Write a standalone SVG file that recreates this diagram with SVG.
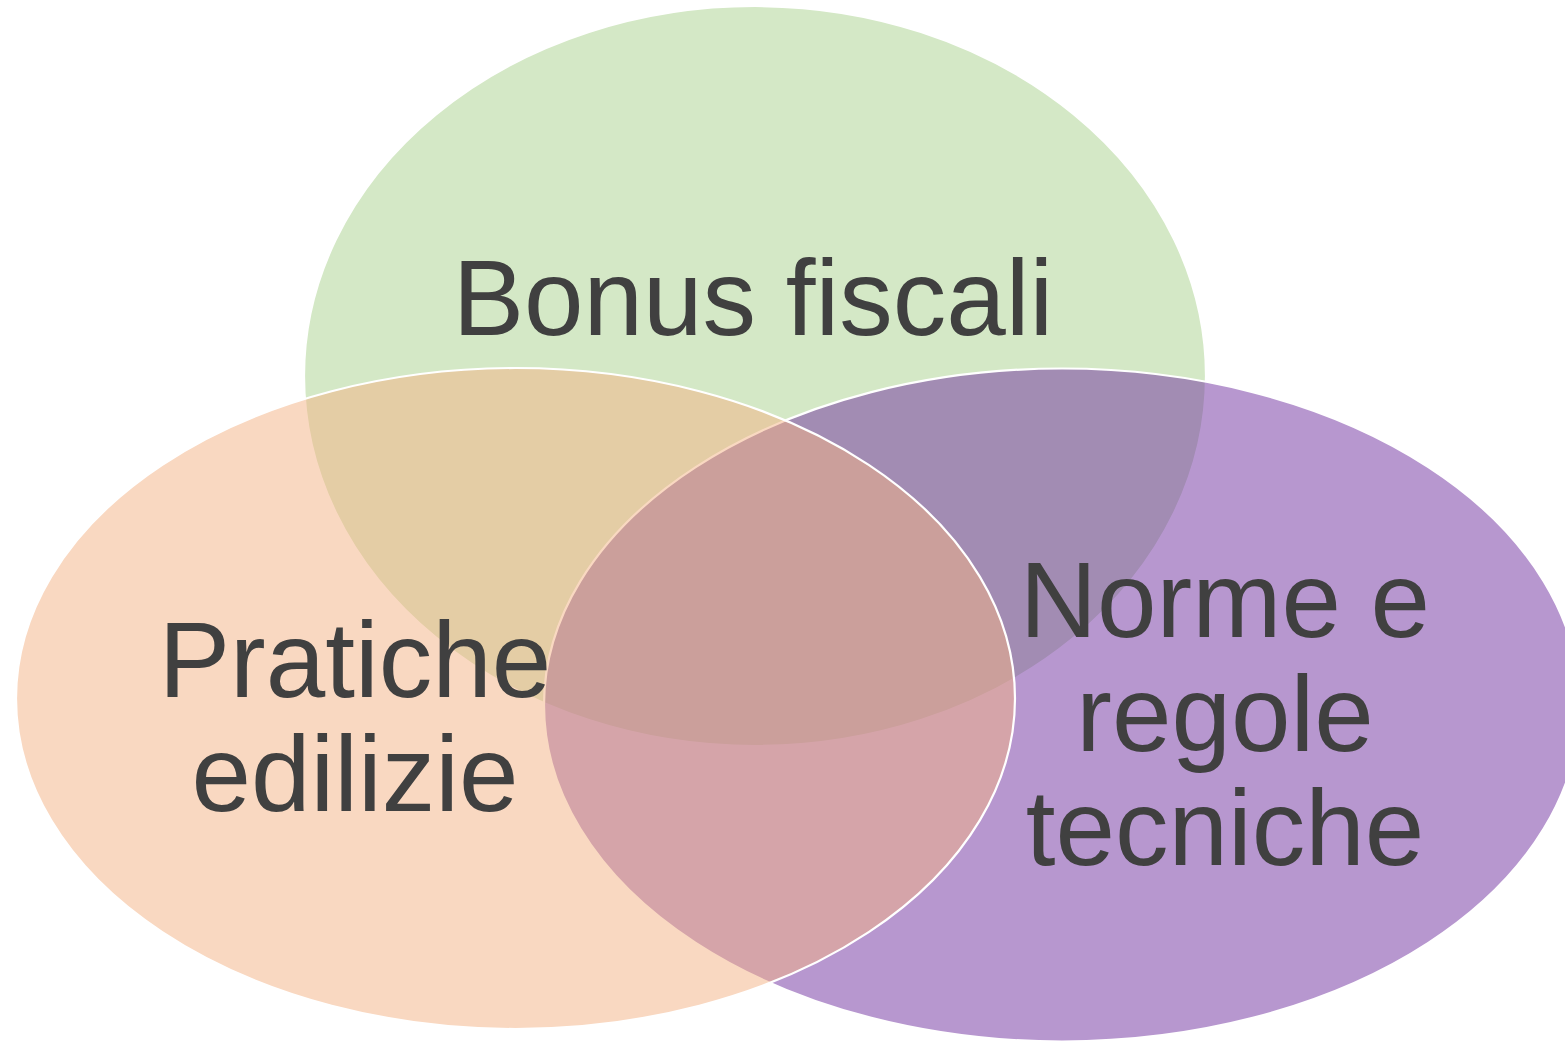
<svg xmlns="http://www.w3.org/2000/svg" width="1565" height="1041" viewBox="0 0 1565 1041">
  <style>
    .set { stroke: #ffffff; stroke-width: 2.2; }
    .green { fill: #a9d18e; fill-opacity: 0.5; }
    .purple { fill: #7030a0; fill-opacity: 0.5; }
    .orange { fill: #f4b183; fill-opacity: 0.5; }
    .label { font-family: "Liberation Sans", Arial, Helvetica, sans-serif; font-size: 107px; fill: #404040; text-anchor: middle; }
  </style>
  <rect width="1565" height="1041" fill="#ffffff"/>
  <g id="bonus-fiscali">
    <ellipse class="set green" cx="755" cy="376" rx="451" ry="370"/>
  </g>
  <g id="norme-regole-tecniche">
    <ellipse class="set purple" cx="1062" cy="705" rx="518" ry="336.5"/>
  </g>
  <g id="pratiche-edilizie">
    <ellipse class="set orange" cx="515.5" cy="698.5" rx="499.5" ry="330.5"/>
  </g>
  <g id="connectors"></g>
  <g id="labels">
    <text class="label" x="753" y="335">Bonus fiscali</text>
    <text class="label" x="355" y="697">Pratiche</text>
    <text class="label" x="355" y="811">edilizie</text>
    <text class="label" x="1225" y="637">Norme e</text>
    <text class="label" x="1225" y="751">regole</text>
    <text class="label" x="1225" y="865">tecniche</text>
  </g>
</svg>
